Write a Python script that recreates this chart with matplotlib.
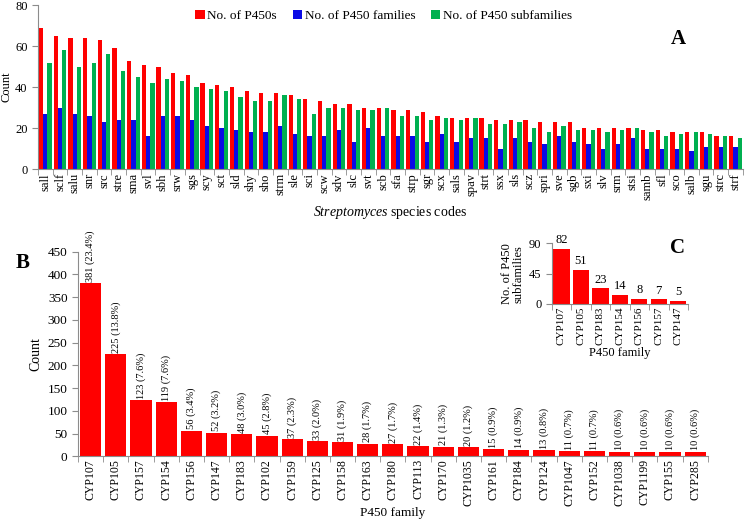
import matplotlib
matplotlib.use("Agg")
import matplotlib.pyplot as plt
import numpy as np

plt.rcParams['font.family'] = ['Liberation Serif', 'DejaVu Serif']
plt.rcParams['mathtext.fontset'] = 'custom'
plt.rcParams['mathtext.rm'] = 'Liberation Serif'
plt.rcParams['mathtext.it'] = 'Liberation Serif:italic'

RED = '#ff0000'
BLUE = '#0a0ae6'
GREEN = '#00b050'
GREY = '#8c8c8c'

# panel A data
species = ['sall', 'sclf', 'salu', 'snr', 'src', 'stre', 'sma', 'svl', 'sbh', 'srw', 'sgs', 'scy',
           'sct', 'sld', 'shy', 'sho', 'strm', 'sle', 'sci', 'scw', 'sdv', 'slc', 'svt', 'scb',
           'sfa', 'strp', 'sgr', 'scx', 'sals', 'spav', 'strt', 'ssx', 'sls', 'scz', 'spri', 'sve',
           'sgb', 'sxi', 'slv', 'srm', 'stsi', 'samb', 'sfl', 'sco', 'salb', 'sgu', 'strc', 'strf']
n_p450 = [69, 65, 64, 64, 63, 59, 53, 51, 50, 47, 46, 42,
          41, 40, 38, 37, 37, 36, 34, 33, 32, 32, 30, 30,
          29, 29, 28, 26, 25, 25, 25, 24, 24, 24, 23, 23,
          23, 20, 20, 20, 20, 19, 19, 18, 18, 18, 16, 16]
n_families = [27, 30, 27, 26, 23, 24, 24, 16, 26, 26, 24, 21,
              20, 19, 18, 18, 21, 17, 16, 16, 19, 13, 20, 16,
              16, 16, 13, 17, 13, 15, 15, 10, 15, 13, 12, 16,
              13, 12, 10, 12, 15, 10, 10, 10, 9, 11, 11, 11]
n_subfamilies = [52, 58, 50, 52, 56, 48, 45, 42, 44, 43, 40, 39,
                 38, 35, 33, 33, 36, 34, 27, 30, 30, 29, 29, 30,
                 26, 26, 24, 25, 24, 25, 22, 22, 23, 20, 18, 21,
                 19, 19, 18, 19, 20, 18, 16, 17, 18, 17, 16, 15]

# panel B data
families = ['CYP107', 'CYP105', 'CYP157', 'CYP154', 'CYP156', 'CYP147', 'CYP183', 'CYP102',
            'CYP159', 'CYP125', 'CYP158', 'CYP163', 'CYP180', 'CYP113', 'CYP170', 'CYP1035',
            'CYP161', 'CYP184', 'CYP124', 'CYP1047', 'CYP152', 'CYP1038', 'CYP1199', 'CYP155', 'CYP285']
fam_counts = [381, 225, 123, 119, 56, 52, 48, 45, 37, 33, 31, 28, 27, 22, 21, 20,
              15, 14, 13, 11, 11, 10, 10, 10, 10]
fam_pct = [23.4, 13.8, 7.6, 7.6, 3.4, 3.2, 3.0, 2.8, 2.3, 2.0, 1.9, 1.7, 1.7, 1.4, 1.3, 1.2,
           0.9, 0.9, 0.8, 0.7, 0.7, 0.6, 0.6, 0.6, 0.6]

# panel C data
sub_families = ['CYP107', 'CYP105', 'CYP183', 'CYP154', 'CYP156', 'CYP157', 'CYP147']
sub_counts = [82, 51, 23, 14, 8, 7, 5]


def style_axes(ax, n):
    for s in ['top', 'right']:
        ax.spines[s].set_visible(False)
    for s in ['left', 'bottom']:
        ax.spines[s].set_color(GREY)
    ax.set_xlim(0, n)
    ax.set_xticks(np.arange(n) + 0.5)
    ax.set_xticks(np.arange(n + 1), minor=True)
    ax.tick_params(axis='x', which='major', length=0, pad=3)
    ax.tick_params(axis='x', which='minor', length=4, color=GREY)
    ax.tick_params(axis='y', length=4, color=GREY)


fig = plt.figure(figsize=(7.45, 5.25), dpi=100)

# ---- A ----
axA = fig.add_axes([0.051, 0.678, 0.946, 0.312])
x = np.arange(len(species)) + 0.5
w = 0.29
axA.bar(x - w, n_p450, w, color=RED, label='No. of P450s')
axA.bar(x, n_families, w, color=BLUE, label='No. of P450 families')
axA.bar(x + w, n_subfamilies, w, color=GREEN, label='No. of P450 subfamilies')
style_axes(axA, len(species))
axA.set_xticklabels(species, rotation=90, fontsize=9)
axA.set_ylim(0, 80)
axA.set_yticks([0, 20, 40, 60, 80])
axA.tick_params(axis='y', labelsize=9)
axA.set_ylabel('Count', fontsize=9, labelpad=2)
axA.set_xlabel(r'$\it{Streptomyces}$ species codes', fontsize=10, labelpad=3)
fig.legend(loc='center', bbox_to_anchor=(0.515, 0.97), ncol=3, frameon=False, fontsize=9.5,
           handlelength=0.7, handleheight=0.7, handletextpad=0.2, columnspacing=1.2)
fig.text(0.91, 0.925, 'A', fontsize=15, fontweight='bold', ha='center', va='center')

# ---- B ----
axB = fig.add_axes([0.1047, 0.131, 0.8453, 0.3895])
xb = np.arange(len(families)) + 0.5
axB.bar(xb, fam_counts, 0.84, color=RED)
style_axes(axB, len(families))
axB.set_xticklabels(families, rotation=90, fontsize=8.5)
axB.tick_params(axis='x', which='major', pad=2)
axB.set_ylim(0, 450)
axB.set_yticks(np.arange(0, 451, 50))
axB.tick_params(axis='y', labelsize=9.5)
axB.set_ylabel('Count', fontsize=10, labelpad=4)
axB.set_xlabel('P450 family', fontsize=9.5, labelpad=1)
for xi, v, p in zip(xb, fam_counts, fam_pct):
    axB.text(xi, v + 3, f'{v} ({p:.1f}%)', rotation=90, ha='center', va='bottom', fontsize=7.5)
fig.text(0.03, 0.5, 'B', fontsize=15, fontweight='bold', ha='center', va='center')

# ---- C ----
axC = fig.add_axes([0.7405, 0.421, 0.183, 0.1156])
xc = np.arange(len(sub_families)) + 0.5
axC.bar(xc, sub_counts, 0.84, color=RED)
style_axes(axC, len(sub_families))
axC.set_xticklabels(sub_families, rotation=90, fontsize=8)
axC.tick_params(axis='x', which='major', pad=2)
axC.set_ylim(0, 90)
axC.set_yticks([0, 45, 90])
axC.tick_params(axis='y', labelsize=9)
axC.set_ylabel('No. of P450\nsubfamilies', fontsize=9, labelpad=3, linespacing=0.95)
axC.set_xlabel('P450 family', fontsize=9, labelpad=1)
for xi, v in zip(xc, sub_counts):
    axC.text(xi, v + 4, str(v), ha='center', va='bottom', fontsize=9)
fig.text(0.91, 0.528, 'C', fontsize=15, fontweight='bold', ha='center', va='center')

fig.savefig('out.png', dpi=100)
